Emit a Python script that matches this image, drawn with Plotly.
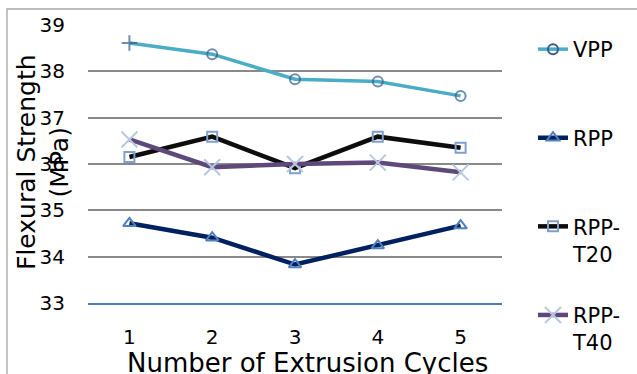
import plotly.graph_objects as go

cycles = [1, 2, 3, 4, 5]
vpp = [38.61, 38.37, 37.83, 37.78, 37.47]
rpp = [34.72, 34.41, 33.83, 34.24, 34.67]
rpp_t20 = [36.15, 36.59, 35.91, 36.59, 36.35]
rpp_t40 = [36.53, 35.93, 36.00, 36.03, 35.82]
y_ticks = [33, 34, 35, 36, 37, 38, 39]

FONT = "DejaVu Sans"

fig = go.Figure()

# legend proxy for VPP (the plotted first point uses a '+' marker)
fig.add_trace(go.Scatter(
    x=[None], y=[None], name="VPP<br> ", mode="lines+markers",
    line=dict(color="#4bacc6", width=3.5),
    marker=dict(symbol="circle-open", size=10, color="#385d8a", line=dict(width=2, color="#385d8a")),
    legendgroup="a", showlegend=True))
fig.add_trace(go.Scatter(
    x=cycles, y=vpp, mode="lines+markers", showlegend=False, legendgroup="a",
    line=dict(color="#4bacc6", width=3.5),
    marker=dict(symbol=["cross-thin-open"] + ["circle-open"] * 4, size=[11, 10, 10, 10, 10],
                color="#385d8a", line=dict(width=2, color="#385d8a"))))
fig.add_trace(go.Scatter(
    x=cycles, y=rpp, name="RPP<br> ", mode="lines+markers", legendgroup="b",
    line=dict(color="#002060", width=4.5),
    marker=dict(symbol="triangle-up-open", size=11, color="#4f81bd", line=dict(width=2, color="#4f81bd"))))
fig.add_trace(go.Scatter(
    x=cycles, y=rpp_t20, name="RPP-<br>T20", mode="lines+markers", legendgroup="c",
    line=dict(color="#0d0d0d", width=4.5),
    marker=dict(symbol="square-open", size=10, color="#7f9fcf", line=dict(width=2, color="#7f9fcf"))))
fig.add_trace(go.Scatter(
    x=cycles, y=rpp_t40, name="RPP-<br>T40", mode="lines+markers", legendgroup="d",
    line=dict(color="#5f497a", width=4.5),
    marker=dict(symbol="x-thin-open", size=16, color="#b9c8e1", line=dict(width=2, color="#b9c8e1"))))

W, H = 637, 374
L, R, T, B = 88, 135, 25, 71
pw, ph = W - L - R, H - T - B

def px(x):
    return (x - L) / pw

def py(y):
    return (H - B - y) / ph

fig.update_layout(
    width=W, height=H,
    margin=dict(l=L, r=R, t=T, b=B, autoexpand=False),
    paper_bgcolor="white", plot_bgcolor="white",
    font=dict(family=FONT, color="black"),
    xaxis=dict(range=[0.5, 5.5], tickvals=cycles, ticktext=[str(c) for c in cycles],
               showgrid=False, zeroline=False, showline=True, linecolor="#4a7ebb", linewidth=1.5,
               ticks="", tickfont=dict(size=20, family=FONT), ticklabelstandoff=15),
    yaxis=dict(range=[33, 39], tickvals=y_ticks, showgrid=True, gridcolor="#898989", gridwidth=1.5,
               zeroline=False, showline=False, ticks="", tickfont=dict(size=20, family=FONT),
               ticklabelstandoff=22),
    legend=dict(x=px(533), xanchor="left", y=py(29), yanchor="top",
                traceorder="grouped", tracegroupgap=31, valign="top",
                font=dict(size=21, family=FONT), bgcolor="rgba(0,0,0,0)", maxheight=600),
    annotations=[
        dict(text="Number of Extrusion Cycles", xref="paper", yref="paper", x=px(307), y=py(363),
             xanchor="center", yanchor="middle", showarrow=False, font=dict(size=26, family=FONT)),
        dict(text="Flexural Strength<br>(MPa)", xref="paper", yref="paper", x=px(43), y=py(162),
             xanchor="center", yanchor="middle", textangle=-90, showarrow=False,
             font=dict(size=25, family=FONT)),
    ],
    shapes=[dict(type="rect", xref="paper", yref="paper", x0=px(7), x1=px(660), y0=py(400), y1=py(9),
                 line=dict(color="#a6a6a6", width=1.3), fillcolor="rgba(0,0,0,0)", layer="below")],
)

fig.write_html("out.html")
